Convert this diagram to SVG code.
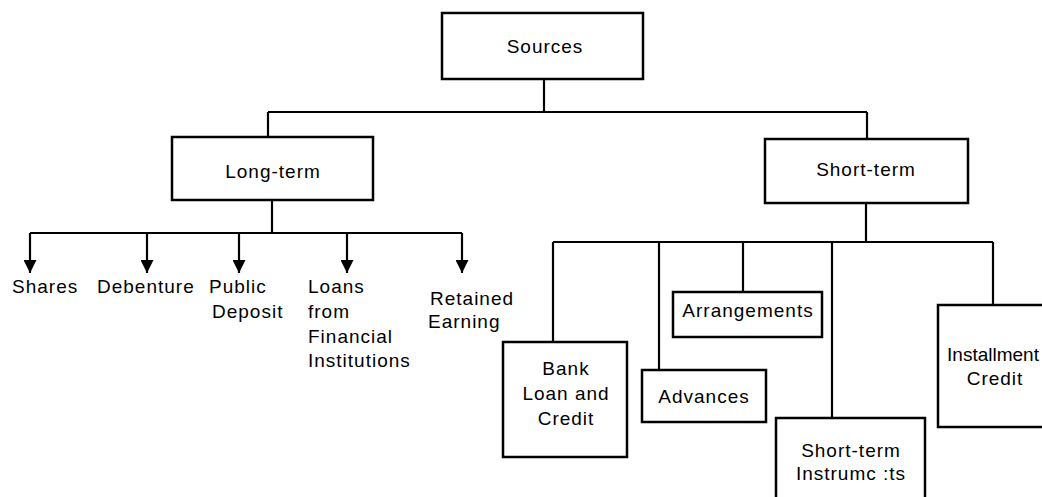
<svg xmlns="http://www.w3.org/2000/svg" width="1042" height="497" viewBox="0 0 1042 497">
  <style>
    .box { fill: #ffffff; stroke: #000000; stroke-width: 2.5; }
    .line { fill: none; stroke: #000000; stroke-width: 2.2; }
    .t { font-family: "Liberation Sans", Arial, Helvetica, sans-serif; font-size: 19px; letter-spacing: 1px; fill: #000000; }
    .c { text-anchor: middle; }
  </style>
  <defs>
    <marker id="arrow" markerUnits="userSpaceOnUse" markerWidth="13" markerHeight="13" viewBox="0 0 13 13" refX="13" refY="6.5" orient="auto">
      <path d="M0,0 L13,6.5 L0,13 z" fill="#000000"/>
    </marker>
  </defs>
  <rect x="0" y="0" width="1042" height="497" fill="#ffffff"/>

  <g id="connectors">
    <path class="line" d="M544,79 V112 M268,112 H867 M268,112 V137 M867,112 V139"/>
    <path class="line" d="M272,200 V233 M30,233 H462"/>
    <line class="line" x1="30" y1="233" x2="30" y2="273" marker-end="url(#arrow)"/>
    <line class="line" x1="147" y1="233" x2="147" y2="273" marker-end="url(#arrow)"/>
    <line class="line" x1="239" y1="233" x2="239" y2="273" marker-end="url(#arrow)"/>
    <line class="line" x1="347" y1="233" x2="347" y2="273" marker-end="url(#arrow)"/>
    <line class="line" x1="462" y1="233" x2="462" y2="273" marker-end="url(#arrow)"/>
    <path class="line" d="M866,203 V242 M553,242 H993 M553,242 V342 M659,242 V370 M743,242 V292 M832,242 V418 M993,242 V305"/>
  </g>

  <g id="sources">
    <rect class="box" x="442" y="13" width="201" height="66"/>
    <text class="t c" x="545" y="53">Sources</text>
  </g>
  <g id="long-term">
    <rect class="box" x="172" y="137" width="201" height="63"/>
    <text class="t c" x="273" y="178">Long-term</text>
  </g>
  <g id="short-term">
    <rect class="box" x="765" y="139" width="203" height="64"/>
    <text class="t c" x="866" y="176">Short-term</text>
  </g>

  <g id="shares"><text class="t" x="12" y="293">Shares</text></g>
  <g id="debenture"><text class="t" x="97" y="293">Debenture</text></g>
  <g id="public-deposit">
    <text class="t" x="209" y="293">Public</text>
    <text class="t" x="212" y="318">Deposit</text>
  </g>
  <g id="loans">
    <text class="t" x="308" y="293">Loans</text>
    <text class="t" x="308" y="318">from</text>
    <text class="t" x="308" y="343">Financial</text>
    <text class="t" x="308" y="367">Institutions</text>
  </g>
  <g id="retained">
    <text class="t" x="430" y="305">Retained</text>
    <text class="t" x="428" y="328">Earning</text>
  </g>

  <g id="bank">
    <rect class="box" x="503" y="342" width="124" height="115"/>
    <text class="t c" x="566" y="375">Bank</text>
    <text class="t c" x="566" y="400">Loan and</text>
    <text class="t c" x="566" y="425">Credit</text>
  </g>
  <g id="advances">
    <rect class="box" x="642" y="370" width="124" height="52"/>
    <text class="t c" x="704" y="403">Advances</text>
  </g>
  <g id="arrangements">
    <rect class="box" x="673" y="292" width="149" height="45"/>
    <text class="t c" x="748" y="317">Arrangements</text>
  </g>
  <g id="short-term-instruments">
    <rect class="box" x="776" y="418" width="149" height="90"/>
    <text class="t c" x="851" y="457">Short-term</text>
    <text class="t c" x="851" y="480">Instrumc :ts</text>
  </g>
  <g id="installment">
    <rect class="box" x="938" y="305" width="114" height="122"/>
    <text class="t c" x="993" y="361" style="letter-spacing:0">Installment</text>
    <text class="t c" x="995" y="385">Credit</text>
  </g>
</svg>
